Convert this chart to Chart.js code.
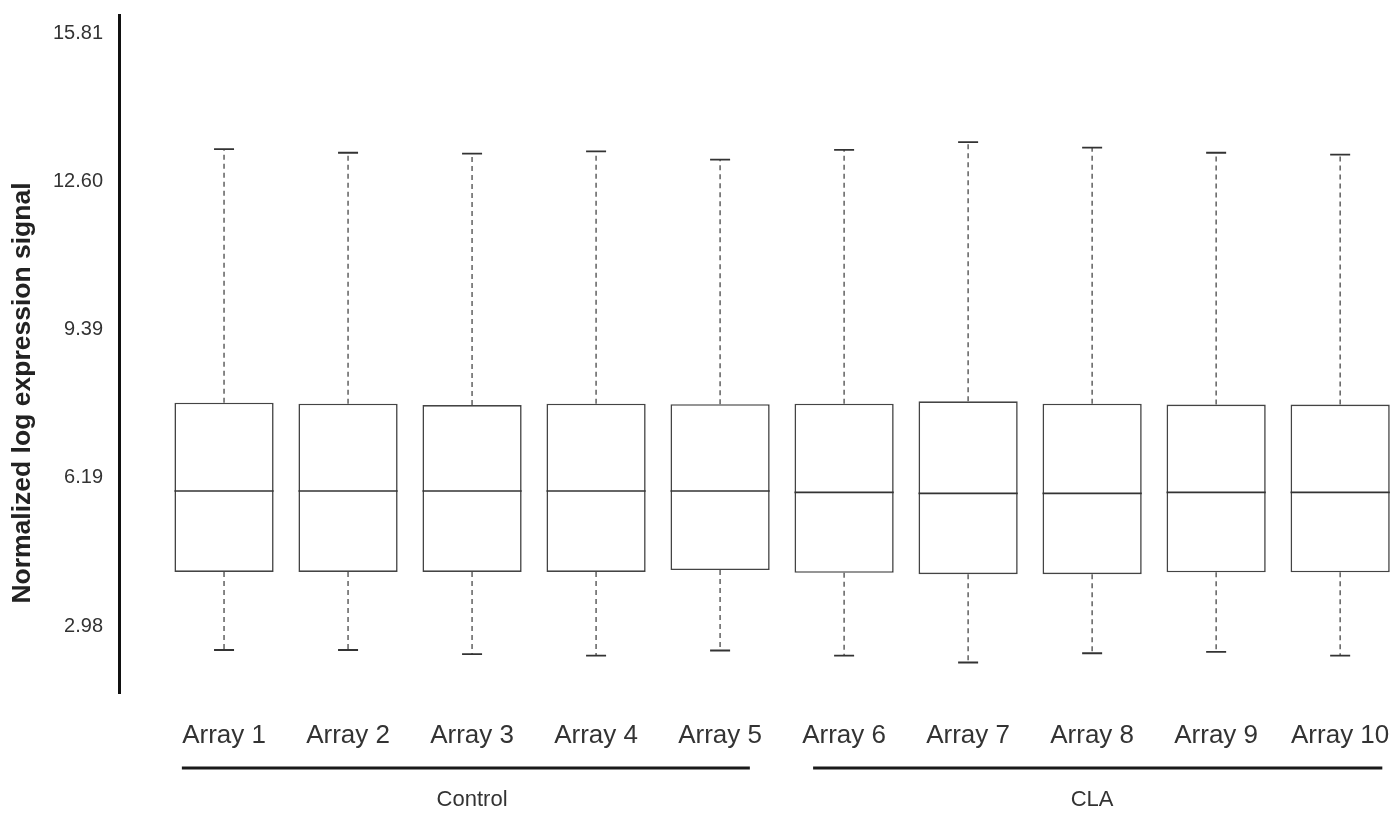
<!DOCTYPE html>
<html>
<head>
<meta charset="utf-8">
<script src="https://cdn.jsdelivr.net/npm/chart.js@4.4.0/dist/chart.umd.min.js"></script>
<style>
  html, body { margin: 0; padding: 0; background: #fff; }
  #wrap { width: 1391px; height: 816px; position: relative; }
</style>
</head>
<body>
<div id="wrap"><canvas id="chart"></canvas></div>
<script>
// box plot summary values
const categories = ['Array 1', 'Array 2', 'Array 3', 'Array 4', 'Array 5',
                    'Array 6', 'Array 7', 'Array 8', 'Array 9', 'Array 10'];
const whiskerHigh = [13.30, 13.22, 13.20, 13.25, 13.07, 13.28, 13.45, 13.33, 13.22, 13.18];
const q3 = [7.81, 7.79, 7.76, 7.79, 7.78, 7.79, 7.84, 7.79, 7.77, 7.77];
const medians = [5.90, 5.90, 5.90, 5.90, 5.90, 5.87, 5.85, 5.85, 5.87, 5.87];
const q1 = [4.15, 4.15, 4.15, 4.15, 4.19, 4.13, 4.10, 4.10, 4.14, 4.14];
const whiskerLow = [2.46, 2.46, 2.37, 2.34, 2.45, 2.34, 2.19, 2.39, 2.42, 2.34];
const yTicks = [2.98, 6.19, 9.39, 12.60, 15.81];
const groupLabels = ['Control', 'CLA'];
const groupCenter = [3, 8];
const groupStart = [0.66, 5.75];
const groupEnd = [5.24, 10.34];
const yTitle = 'Normalized log expression signal';

const FONT = "'Liberation Sans', Arial, Helvetica, sans-serif";

const boxPlugin = {
  id: 'boxExtras',
  afterDatasetsDraw(chart) {
    const ctx = chart.ctx;
    const xs = chart.scales.x, ys = chart.scales.y;
    const meta = chart.getDatasetMeta(0);
    ctx.save();
    categories.forEach((c, i) => {
      const bar = meta.data[i];
      const x = xs.getPixelForValue(i + 1);
      const half = bar.width / 2;
      // median
      ctx.strokeStyle = '#333';
      ctx.lineWidth = 1.6;
      ctx.setLineDash([]);
      ctx.beginPath();
      ctx.moveTo(x - half, ys.getPixelForValue(medians[i]));
      ctx.lineTo(x + half, ys.getPixelForValue(medians[i]));
      ctx.stroke();
      // whiskers
      ctx.strokeStyle = '#555';
      ctx.lineWidth = 1.4;
      ctx.setLineDash([5, 4]);
      ctx.beginPath();
      ctx.moveTo(x, ys.getPixelForValue(q3[i]));
      ctx.lineTo(x, ys.getPixelForValue(whiskerHigh[i]));
      ctx.moveTo(x, ys.getPixelForValue(q1[i]));
      ctx.lineTo(x, ys.getPixelForValue(whiskerLow[i]));
      ctx.stroke();
      // caps
      ctx.setLineDash([]);
      ctx.strokeStyle = '#333';
      ctx.lineWidth = 1.8;
      ctx.beginPath();
      ctx.moveTo(x - 10, ys.getPixelForValue(whiskerHigh[i]));
      ctx.lineTo(x + 10, ys.getPixelForValue(whiskerHigh[i]));
      ctx.moveTo(x - 10, ys.getPixelForValue(whiskerLow[i]));
      ctx.lineTo(x + 10, ys.getPixelForValue(whiskerLow[i]));
      ctx.stroke();
    });
    ctx.restore();
  },
  afterDraw(chart) {
    const ctx = chart.ctx;
    const xs = chart.scales.x;
    const area = chart.chartArea;
    ctx.save();
    // group brackets
    groupLabels.forEach((g, k) => {
      const x0 = xs.getPixelForValue(groupStart[k]);
      const x1 = xs.getPixelForValue(groupEnd[k]);
      const yLine = area.bottom + 75;
      ctx.strokeStyle = '#1a1a1a';
      ctx.lineWidth = 3;
      ctx.beginPath();
      ctx.moveTo(x0, yLine);
      ctx.lineTo(x1, yLine);
      ctx.stroke();
      ctx.fillStyle = '#333';
      ctx.font = '22px ' + FONT;
      ctx.textAlign = 'center';
      ctx.textBaseline = 'middle';
      ctx.fillText(g, xs.getPixelForValue(groupCenter[k]), area.bottom + 107);
    });
    // y axis title
    ctx.translate(23, (area.top + area.bottom) / 2 + 39);
    ctx.rotate(-Math.PI / 2);
    ctx.fillStyle = '#222';
    ctx.font = 'bold 26.5px ' + FONT;
    ctx.textAlign = 'center';
    ctx.textBaseline = 'middle';
    ctx.fillText(yTitle, 0, 0);
    ctx.restore();
  }
};

new Chart(document.getElementById('chart'), {
  type: 'bar',
  data: {
    datasets: [{
      data: categories.map((c, i) => ({ x: i + 1, y: [q1[i], q3[i]] })),
      backgroundColor: '#fff',
      borderColor: '#444',
      borderWidth: 1.6,
      borderSkipped: false,
      categoryPercentage: 1,
      barPercentage: 0.8
    }]
  },
  options: {
    responsive: true,
    maintainAspectRatio: false,
    animation: false,
    layout: { padding: { top: 15, right: 0, left: 0, bottom: 0 } },
    plugins: { legend: { display: false }, tooltip: { enabled: false } },
    scales: {
      x: {
        type: 'linear',
        offset: false,
        min: 0.153,
        max: 10.41,
        afterBuildTicks: s => { s.ticks = categories.map((c, i) => ({ value: i + 1 })); },
        afterFit: s => { s.height = 123; s.paddingLeft = 0; s.paddingRight = 0; },
        grid: { display: false, drawTicks: false },
        border: { display: false },
        ticks: {
          autoSkip: false,
          maxRotation: 0,
          padding: 27,
          color: '#333',
          font: { family: FONT, size: 26 },
          callback: v => categories[Math.round(v) - 1]
        }
      },
      y: {
        min: 1.53,
        max: 16.2,
        afterBuildTicks: s => { s.ticks = yTicks.map(v => ({ value: v })); },
        afterFit: s => { s.width = 119; s.paddingTop = 0; s.paddingBottom = 0; },
        grid: { display: false, drawTicks: false },
        border: { display: true, color: '#111', width: 3 },
        ticks: {
          padding: 16,
          color: '#333',
          font: { family: FONT, size: 20 },
          callback: v => v.toFixed(2)
        }
      }
    }
  },
  plugins: [boxPlugin]
});
</script>
</body>
</html>
